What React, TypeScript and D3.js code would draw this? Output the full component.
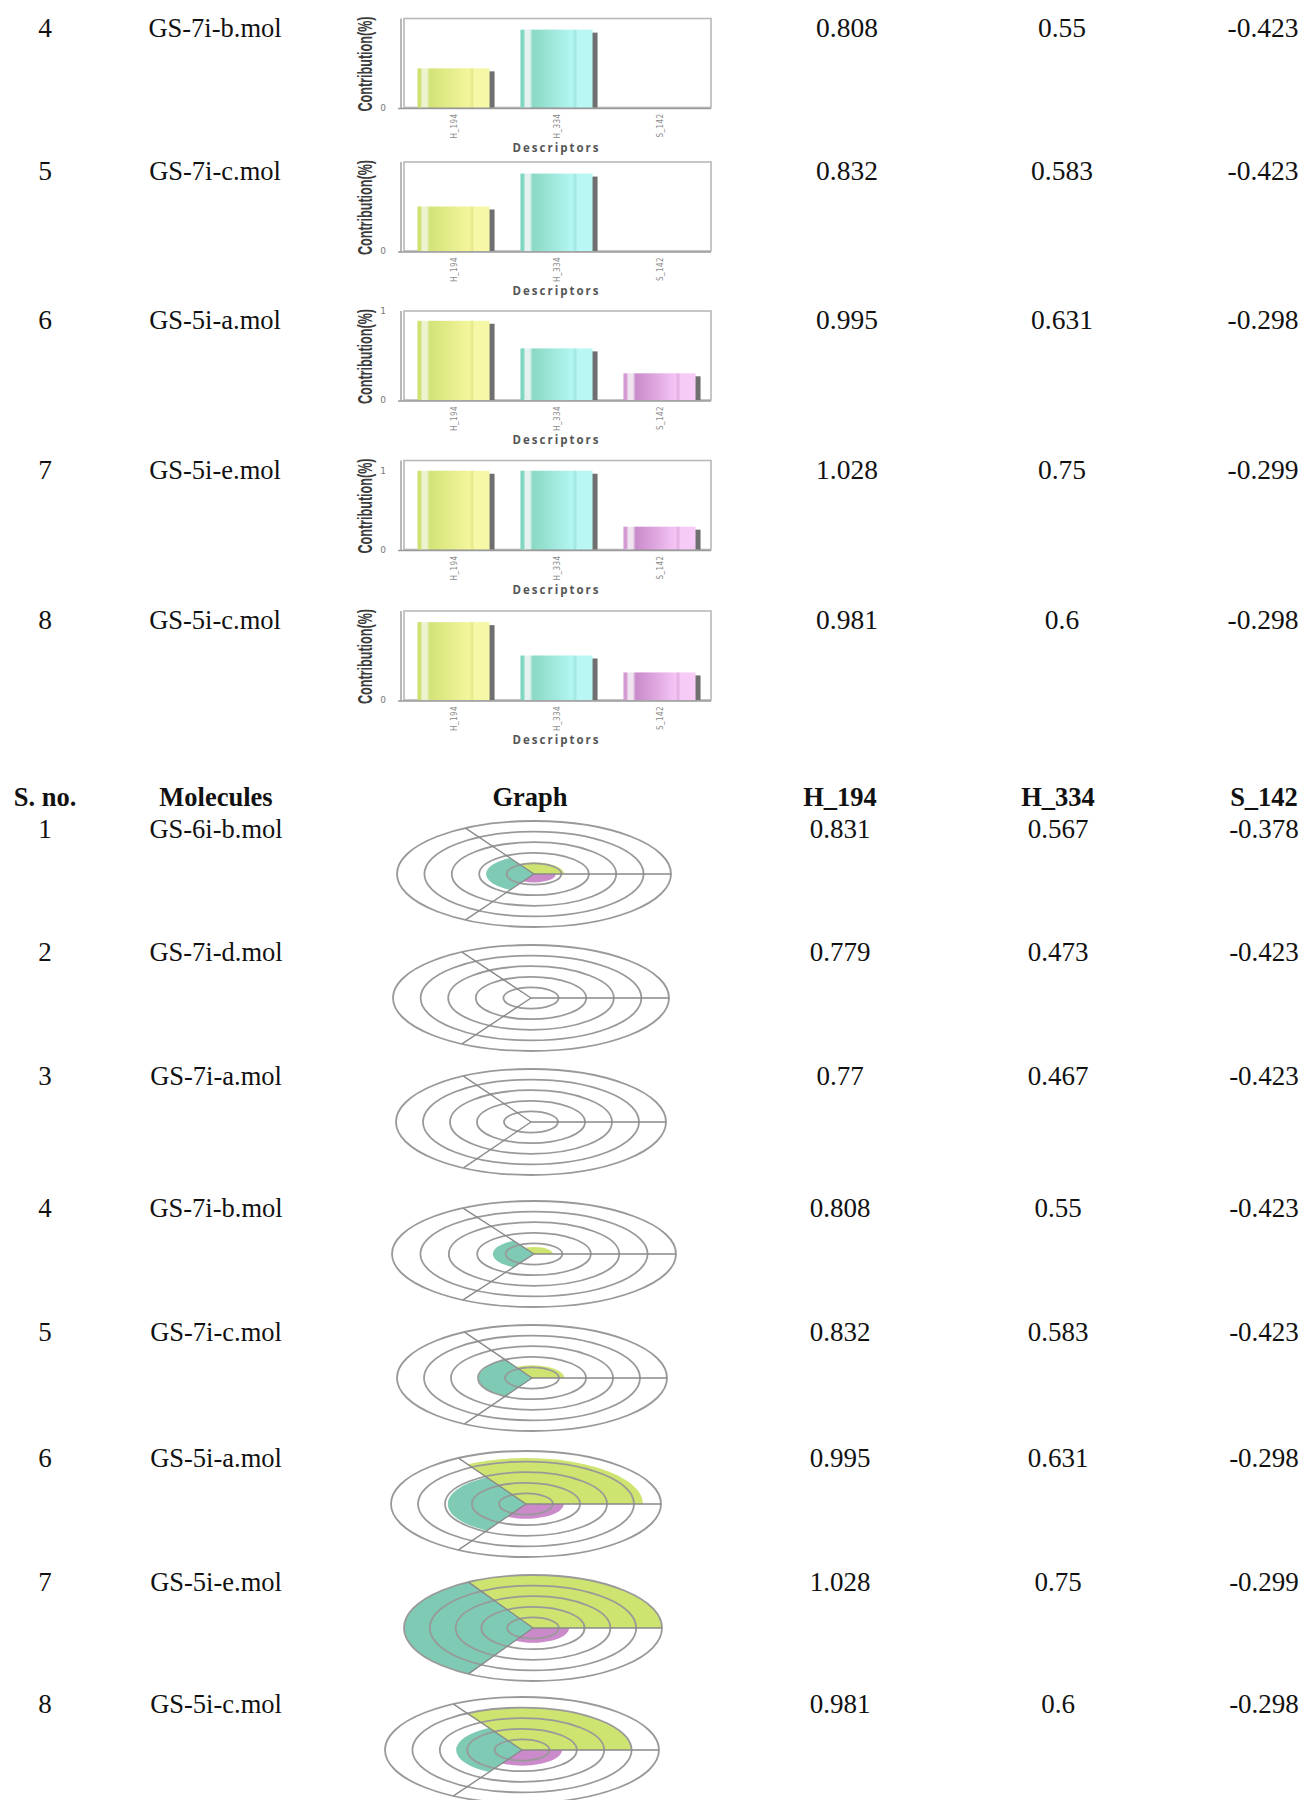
import React from "react";
import * as d3 from "d3";

// ---------- data ----------
const descriptors = ["H_194", "H_334", "S_142"];

const barRowNos = ["4", "5", "6", "7", "8"];
const barMolecules = ["GS-7i-b.mol", "GS-7i-c.mol", "GS-5i-a.mol", "GS-5i-e.mol", "GS-5i-c.mol"];
const barH194Text = ["0.808", "0.832", "0.995", "1.028", "0.981"];
const barH334Text = ["0.55", "0.583", "0.631", "0.75", "0.6"];
const barS142Text = ["-0.423", "-0.423", "-0.298", "-0.299", "-0.298"];
const barContribH194 = [0.44, 0.5, 0.89, 1.0, 0.875];
const barContribH334 = [0.875, 0.87, 0.58, 1.0, 0.5];
const barContribS142 = [0, 0, 0.3, 0.29, 0.31];
const barYMax = [1, 1, 1, 1.13, 1];
const barYTicks = [[0], [0], [0, 1], [0, 1], [0]];

const tableHeaders = ["S. no.", "Molecules", "Graph", "H_194", "H_334", "S_142"];
const polarRowNos = ["1", "2", "3", "4", "5", "6", "7", "8"];
const polarMolecules = ["GS-6i-b.mol", "GS-7i-d.mol", "GS-7i-a.mol", "GS-7i-b.mol", "GS-7i-c.mol", "GS-5i-a.mol", "GS-5i-e.mol", "GS-5i-c.mol"];
const polarH194Text = ["0.831", "0.779", "0.77", "0.808", "0.832", "0.995", "1.028", "0.981"];
const polarH334Text = ["0.567", "0.473", "0.467", "0.55", "0.583", "0.631", "0.75", "0.6"];
const polarS142Text = ["-0.378", "-0.423", "-0.423", "-0.423", "-0.423", "-0.298", "-0.299", "-0.298"];
const polarH194 = [1.1, 0, 0, 0.67, 1.2, 4.33, 5, 4.0];
const polarH334 = [1.75, 0, 0, 1.45, 1.98, 2.9, 5, 2.4];
const polarS142 = [0.8, 0, 0, 0, 0, 1.4, 1.4, 1.46];
const polarRingTicks = [1, 2, 3, 4, 5];

// ---------- layout ----------
const W = 1304;
const H = 1800;
const topRowCenters = [27.5, 171, 320, 469.5, 620];
const bottomHeaderCenter = 797;
const bottomRowCenters = [829, 952, 1076, 1208, 1332, 1458, 1582, 1704];
const polarCx = [534, 531, 531, 534, 532, 526, 533, 522];
const polarRx = [137, 138, 135, 142, 135, 135, 129, 137];
const POLAR_RY = 53;
const colTop = { sno: 45, mol: 215, h194: 847, h334: 1062, s142: 1263 };
const colBot = { sno: 45, mol: 216, graph: 530, h194: 840, h334: 1058, s142: 1264 };
const serif = "'Liberation Serif', 'Times New Roman', serif";
const BOX_L = 402, BOX_R = 711, BOX_H = 89;
const MOL_FS = 26.5;
const NUM_FS = 27.5;
const BOT_FS = 26.5;
const BOT_NUM_FS = 27;

const barColors: Record<string, string[]> = {
  H_194: ["#cfe070", "#eef3cf", "#d3e377", "#f4f69c", "#e3ea88", "#f6f8a8"],
  H_334: ["#7ed6bf", "#e3f2ee", "#8ad9c4", "#b2f6f1", "#a0e6de", "#b8f7f3"],
  S_142: ["#d49ad4", "#f0e4f0", "#c98bcb", "#f4c4f4", "#e2ade2", "#f6cbf6"],
};
const polarColors: Record<string, string> = { H_194: "#cde46f", H_334: "#7ecab4", S_142: "#cb8bcb" };

function BarChart({ i, top }: { i: number; top: number }) {
  const vals = [barContribH194[i], barContribH334[i], barContribS142[i]];
  const x = d3.scaleBand<string>().domain(descriptors).range([BOX_L, BOX_R]).paddingInner(0.3).paddingOuter(0.15);
  const bottom = top + BOX_H;
  const y = d3.scaleLinear().domain([0, barYMax[i]]).range([bottom, top]);
  const bw = x.bandwidth();
  return (
    <g>
      <rect x={BOX_L + 2} y={top} width={BOX_R - BOX_L - 2} height={BOX_H} fill="#fff" stroke="#b8b8b8" strokeWidth={1.6} />
      <line x1={BOX_L - 1} x2={BOX_L - 1} y1={top} y2={bottom + 1} stroke="#9a9a9a" strokeWidth={1.4} />
      <line x1={BOX_L - 4} x2={BOX_R} y1={bottom + 1} y2={bottom + 1} stroke="#9a9a9a" strokeWidth={1.4} />
      {descriptors.map((d, j) => {
        const v = vals[j];
        if (v <= 0) return null;
        const bx = x(d)!;
        const by = y(v);
        const h = bottom - by;
        return (
          <g key={d}>
            <rect x={bx + 5} y={by + 3} width={bw} height={h - 3} fill="#6f6f6f" />
            <rect x={bx} y={by} width={bw} height={h} fill={`url(#grad-${d})`} />
          </g>
        );
      })}
      {barYTicks[i].map((t) => (
        <text key={t} x={383} y={y(t) + 3} fontSize={9} fill="#777" fontFamily="'DejaVu Sans', sans-serif" textAnchor="middle">
          {t}
        </text>
      ))}
      {descriptors.map((d) => (
        <text
          key={d}
          transform={`translate(${x(d)! + bw / 2 + 3},${bottom + 6}) rotate(-90) scale(0.85,1.1)`}
          textAnchor="end"
          fontSize={8.5}
          letterSpacing={0.5}
          fill="#8a8a8a"
          fontFamily="'DejaVu Sans', sans-serif"
        >
          {d}
        </text>
      ))}
      <text
        transform={`translate(372,${(top + bottom) / 2 + 1}) rotate(-90) scale(0.63,1)`}
        textAnchor="middle"
        fontSize={20}
        fontWeight="bold"
        fill="#3a3a3a"
        fontFamily="'Liberation Sans', Arial, sans-serif"
      >
        Contribution(%)
      </text>
      <text x={(BOX_L + BOX_R) / 2} y={bottom + 44} textAnchor="middle" fontSize={11.5} fontWeight="bold" letterSpacing={2} fill="#555" fontFamily="'Open Sans', sans-serif">
        Descriptors
      </text>
    </g>
  );
}

function PolarChart({ i, cy }: { i: number; cy: number }) {
  const vals = [polarH194[i], polarH334[i], polarS142[i]];
  const cx = polarCx[i];
  const rx = polarRx[i];
  const r = d3.scaleLinear().domain([0, 5]).range([0, 1]);
  const angles: [number, number][] = [
    [-Math.PI / 6, Math.PI / 2],
    [-5 * Math.PI / 6, -Math.PI / 6],
    [Math.PI / 2, 7 * Math.PI / 6],
  ];
  const arc = d3.arc<any>();
  const spokeAngles = [Math.PI / 2, -Math.PI / 6, 7 * Math.PI / 6];
  return (
    <g filter="url(#soft)">
      <g transform={`translate(${cx},${cy}) scale(${rx},${POLAR_RY})`}>
        {descriptors.map((d, j) =>
          vals[j] > 0 ? (
            <path
              key={d}
              d={arc({ innerRadius: 0, outerRadius: r(vals[j]), startAngle: angles[j][0], endAngle: angles[j][1] }) || ""}
              fill={polarColors[d]}
            />
          ) : null
        )}
      </g>
      {polarRingTicks.map((t) => (
        <ellipse key={t} cx={cx} cy={cy} rx={rx * r(t)} ry={POLAR_RY * r(t)} fill="none" stroke="#999" strokeWidth={1.8} />
      ))}
      {spokeAngles.map((a, k) => (
        <line
          key={k}
          x1={cx}
          y1={cy}
          x2={cx + Math.sin(a) * rx}
          y2={cy - Math.cos(a) * POLAR_RY}
          stroke="#888"
          strokeWidth={1.3}
        />
      ))}
    </g>
  );
}

function BotText({ x, y, children, bold, fs }: { x: number; y: number; children: React.ReactNode; bold?: boolean; fs: number }) {
  return (
    <text x={x} y={y} textAnchor="middle" fontSize={fs} fontWeight={bold ? "bold" : "normal"} fontFamily={serif} fill="#111">
      {children}
    </text>
  );
}

function TopText({ x, y, children, fs }: { x: number; y: number; children: React.ReactNode; fs: number }) {
  return (
    <text x={x} y={y} textAnchor="middle" fontSize={fs} fontFamily={serif} fill="#111">
      {children}
    </text>
  );
}

export default function App() {
  return (
    <svg width={W} height={H} style={{ position: "absolute", left: 0, top: 0, background: "#fff" }} xmlns="http://www.w3.org/2000/svg">
      <defs>
        <filter id="soft" x="-5%" y="-5%" width="110%" height="110%">
          <feGaussianBlur stdDeviation="0.45" />
        </filter>
        {descriptors.map((d) => {
          const c = barColors[d];
          return (
            <linearGradient key={d} id={`grad-${d}`} x1="0" x2="1" y1="0" y2="0">
              <stop offset="0" stopColor={c[0]} />
              <stop offset="0.04" stopColor={c[0]} />
              <stop offset="0.07" stopColor={c[1]} />
              <stop offset="0.13" stopColor={c[1]} />
              <stop offset="0.17" stopColor={c[2]} />
              <stop offset="0.72" stopColor={c[3]} />
              <stop offset="0.76" stopColor={c[4]} />
              <stop offset="0.79" stopColor={c[5]} />
              <stop offset="1" stopColor={c[5]} />
            </linearGradient>
          );
        })}
      </defs>
      <rect x={0} y={0} width={W} height={H} fill="#fff" />

      {/* top section: bar charts */}
      {barRowNos.map((no, i) => {
        const c = topRowCenters[i];
        const base = c + 9;
        return (
          <g key={"b" + i}>
            <TopText x={colTop.sno} y={base} fs={NUM_FS}>{no}</TopText>
            <TopText x={colTop.mol} y={base} fs={MOL_FS}>{barMolecules[i]}</TopText>
            <TopText x={colTop.h194} y={base} fs={NUM_FS}>{barH194Text[i]}</TopText>
            <TopText x={colTop.h334} y={base} fs={NUM_FS}>{barH334Text[i]}</TopText>
            <TopText x={colTop.s142} y={base} fs={NUM_FS}>{barS142Text[i]}</TopText>
            <BarChart i={i} top={c - 9} />
          </g>
        );
      })}

      {/* bottom section header */}
      {[colBot.sno, colBot.mol, colBot.graph, colBot.h194, colBot.h334, colBot.s142].map((x, k) => (
        <BotText key={"h" + k} x={x} y={bottomHeaderCenter + 9} bold fs={BOT_FS}>
          {tableHeaders[k]}
        </BotText>
      ))}

      {/* bottom section: polar charts */}
      {polarRowNos.map((no, i) => {
        const c = bottomRowCenters[i];
        const base = c + 9;
        return (
          <g key={"p" + i}>
            <PolarChart i={i} cy={bottomRowCenters[i] + (i === 0 ? 45 : 46)} />
            <BotText x={colBot.sno} y={base} fs={BOT_NUM_FS}>{no}</BotText>
            <BotText x={colBot.mol} y={base} fs={BOT_FS}>{polarMolecules[i]}</BotText>
            <BotText x={colBot.h194} y={base} fs={BOT_NUM_FS}>{polarH194Text[i]}</BotText>
            <BotText x={colBot.h334} y={base} fs={BOT_NUM_FS}>{polarH334Text[i]}</BotText>
            <BotText x={colBot.s142} y={base} fs={BOT_NUM_FS}>{polarS142Text[i]}</BotText>
          </g>
        );
      })}
    </svg>
  );
}
